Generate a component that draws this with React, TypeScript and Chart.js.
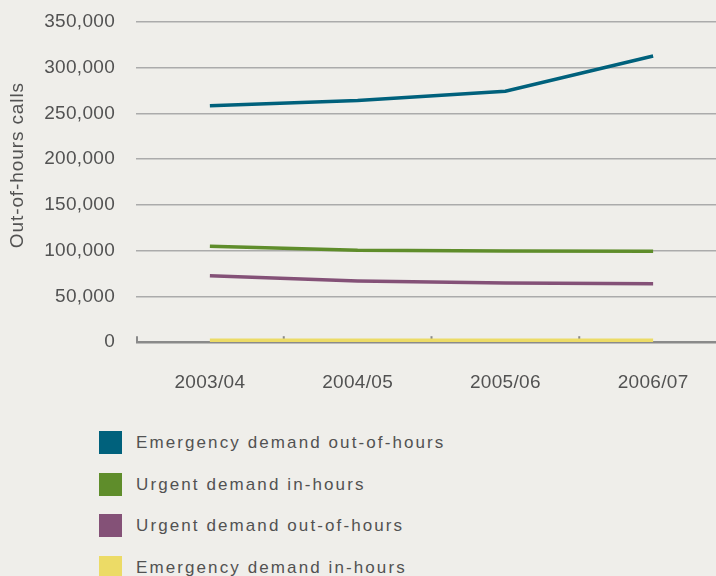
import React, { useEffect, useRef } from 'react';
import { Chart, registerables } from 'chart.js';

Chart.register(...registerables);

const categories = ['2003/04', '2004/05', '2005/06', '2006/07'];
const emergencyOutOfHours = [258400, 264300, 274400, 312800];
const urgentInHours = [105000, 100500, 99800, 99500];
const urgentOutOfHours = [72500, 67000, 64800, 63800];
const emergencyInHours = [2000, 2000, 2000, 2000];

const seriesNames = [
  'Emergency demand out-of-hours',
  'Urgent demand in-hours',
  'Urgent demand out-of-hours',
  'Emergency demand in-hours',
];
const seriesColors = ['#00617c', '#5f8d2b', '#845177', '#ecdb66'];
const seriesValues = [emergencyOutOfHours, urgentInHours, urgentOutOfHours, emergencyInHours];

const yMin = 0;
const yMax = 350000;
const yStep = 50000;
const yTitle = 'Out-of-hours calls';

const FONT = "'Liberation Sans', Arial, sans-serif";
const TEXT = '#525252';
const BG = '#efeeea';

const spacingPlugin = {
  id: 'spacing',
  beforeInit(chart: any) {
    chart.ctx.letterSpacing = '0.3px';
  },
  beforeLayout(chart: any) {
    chart.ctx.letterSpacing = '0.3px';
  },
  beforeDraw(chart: any) {
    chart.ctx.letterSpacing = '0.3px';
  },
};

const tickMarksPlugin = {
  id: 'tickMarks',
  beforeDatasetsDraw(chart: any) {
    const x = chart.scales.x;
    const { ctx, chartArea } = chart;
    const xs: number[] = [chartArea.left + 1];
    for (let i = 0; i < categories.length - 1; i++) {
      xs.push((x.getPixelForValue(i) + x.getPixelForValue(i + 1)) / 2);
    }
    ctx.save();
    ctx.strokeStyle = '#8a8a8a';
    ctx.lineWidth = 2;
    xs.forEach((px) => {
      ctx.beginPath();
      ctx.moveTo(px, chartArea.bottom);
      ctx.lineTo(px, chartArea.bottom - 6);
      ctx.stroke();
    });
    ctx.restore();
  },
};

const yTitlePlugin = {
  id: 'yTitle',
  afterDraw(chart: any) {
    const { ctx, chartArea } = chart;
    ctx.save();
    ctx.letterSpacing = '0.9px';
    ctx.font = `19px ${FONT}`;
    ctx.fillStyle = TEXT;
    ctx.textAlign = 'center';
    ctx.textBaseline = 'middle';
    ctx.translate(chartArea.left - 118.5, (chartArea.top + chartArea.bottom) / 2 - 17);
    ctx.rotate(-Math.PI / 2);
    ctx.fillText(yTitle, 0, 0);
    ctx.restore();
  },
};

export default function App() {
  const ref = useRef<HTMLCanvasElement | null>(null);

  useEffect(() => {
    if (!ref.current) return;
    const chart = new Chart(ref.current, {
      type: 'line',
      data: {
        labels: categories,
        datasets: seriesNames.map((name, i) => ({
          label: name,
          data: seriesValues[i],
          borderColor: seriesColors[i],
          backgroundColor: seriesColors[i],
          borderWidth: 3.5,
          pointRadius: 0,
          pointHoverRadius: 0,
          tension: 0,
          fill: false,
        })),
      },
      options: {
        animation: false,
        responsive: false,
        maintainAspectRatio: false,
        layout: { padding: { top: 22, left: 0, right: 13, bottom: 6 } },
        plugins: {
          legend: { display: false },
          tooltip: { enabled: false },
        },
        scales: {
          x: {
            type: 'category',
            offset: true,
            grid: { display: false, drawTicks: false },
            border: { display: false },
            ticks: {
              padding: 29.5,
              color: TEXT,
              font: { family: FONT, size: 19 },
              maxRotation: 0,
            },
          },
          y: {
            min: yMin,
            max: yMax,
            afterFit: (scale: any) => {
              scale.width = 136;
              scale.paddingTop = 10;
              scale.paddingBottom = 10;
            },
            ticks: {
              stepSize: yStep,
              padding: 21,
              color: TEXT,
              font: { family: FONT, size: 19 },
              callback: (v: any) => Number(v).toLocaleString('en-US'),
            },
            grid: {
              drawTicks: false,
              color: (ctx: any) => (ctx.tick && ctx.tick.value === 0 ? '#8a8a8a' : '#ababab'),
              lineWidth: (ctx: any) => (ctx.tick && ctx.tick.value === 0 ? 2.5 : 1.5),
            },
            border: { display: false },
            title: { display: false, text: yTitle },
          },
        },
      },
      plugins: [spacingPlugin, tickMarksPlugin, yTitlePlugin],
    } as any);
    return () => chart.destroy();
  }, []);

  return (
    <div
      style={{
        position: 'absolute',
        left: 0,
        top: 0,
        width: 716,
        height: 576,
        overflow: 'hidden',
        background: BG,
        fontFamily: FONT,
      }}
    >
      <canvas ref={ref} width={740} height={430} style={{ display: 'block' }} />
      <div style={{ position: 'absolute', left: 99, top: 431 }}>
        {seriesNames.map((name, i) => (
          <div
            key={name}
            style={{
              display: 'flex',
              alignItems: 'center',
              height: 23,
              marginBottom: 18.67,
            }}
          >
            <div style={{ width: 23, height: 23, background: seriesColors[i], flex: 'none' }} />
            <span
              style={{
                marginLeft: 14,
                fontSize: 17,
                letterSpacing: '2.1px',
                color: TEXT,
                whiteSpace: 'nowrap',
                lineHeight: '23px',
              }}
            >
              {name}
            </span>
          </div>
        ))}
      </div>
    </div>
  );
}
